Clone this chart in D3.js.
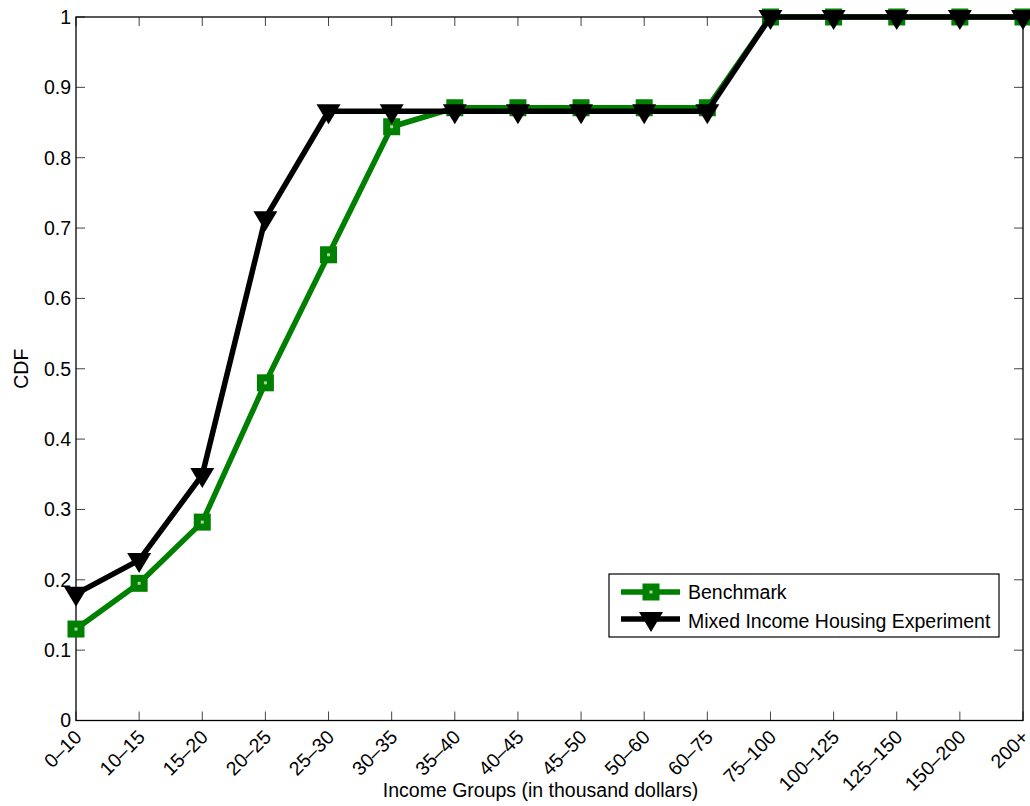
<!DOCTYPE html>
<html><head><meta charset="utf-8">
<script src="https://cdn.jsdelivr.net/npm/d3@7"></script>
<style>body{margin:0;background:#fff}svg{display:block}text{font-family:"Liberation Sans",Arial,sans-serif;fill:#000}</style>
</head><body><svg id="c" width="1030" height="806"></svg>
<script>
const categories = ["0–10","10–15","15–20","20–25","25–30","30–35","35–40","40–45","45–50","50–60","60–75","75–100","100–125","125–150","150–200","200+"];
const benchmark = [0.130,0.195,0.282,0.480,0.662,0.844,0.871,0.871,0.871,0.871,0.871,1,1,1,1,1];
const mixed = [0.180,0.228,0.349,0.714,0.866,0.866,0.866,0.866,0.866,0.866,0.866,1,1,1,1,1];
const yTicks = [0,0.1,0.2,0.3,0.4,0.5,0.6,0.7,0.8,0.9,1];
const seriesNames = ["Benchmark","Mixed Income Housing Experiment"];

const L=76,R=1023,T=17,B=720.5;
const FS=19.5;
const svg=d3.select("#c");
const x=d3.scalePoint().domain(categories).range([L,R]);
const y=d3.scaleLinear().domain([0,1]).range([B,T]);
const green="#008000";

// ticks
const g=svg.append("g");
g.selectAll(".xt").data(categories).enter().append("line")
 .attr("x1",d=>x(d)).attr("x2",d=>x(d)).attr("y1",B).attr("y2",B-9).attr("stroke","#444");
g.selectAll(".xt2").data(categories).enter().append("line")
 .attr("x1",d=>x(d)).attr("x2",d=>x(d)).attr("y1",T).attr("y2",T+9).attr("stroke","#444");
g.selectAll(".yt").data(yTicks).enter().append("line")
 .attr("x1",L).attr("x2",L+9).attr("y1",d=>y(d)).attr("y2",d=>y(d)).attr("stroke","#444");
g.selectAll(".yt2").data(yTicks).enter().append("line")
 .attr("x1",R).attr("x2",R-9).attr("y1",d=>y(d)).attr("y2",d=>y(d)).attr("stroke","#444");
svg.append("rect").attr("x",L).attr("y",T).attr("width",R-L).attr("height",B-T)
 .attr("fill","none").attr("stroke","#000").attr("stroke-width",1.3);

// tick labels
svg.selectAll(".yl").data(yTicks).enter().append("text")
 .attr("x",L-5).attr("y",d=>y(d)).attr("dy","0.35em").attr("text-anchor","end")
 .attr("font-size",FS).text(d=>d3.format("")(d));
svg.selectAll(".xl").data(categories).enter().append("text")
 .attr("transform",d=>`translate(${x(d)-3},${B+8}) rotate(-45)`)
 .attr("text-anchor","end").attr("dy","0.72em").attr("font-size",FS).text(d=>d);

svg.append("text").attr("x",(L+R)/2-9).attr("y",797).attr("text-anchor","middle")
 .attr("font-size",FS).text("Income Groups (in thousand dollars)");
svg.append("text").attr("transform",`translate(28,${(T+B)/2}) rotate(-90)`)
 .attr("text-anchor","middle").attr("font-size",FS).text("CDF");

const line=d3.line().x((d,i)=>x(categories[i])).y(d=>y(d));
function sq(sel,cx,cy){
 sel.append("rect").attr("x",cx-8.5).attr("y",cy-8.5).attr("width",17).attr("height",17).attr("fill",green);
 sel.append("rect").attr("x",cx-1.5).attr("y",cy-1.5).attr("width",3).attr("height",3).attr("fill","#a8d4a8");
}
function tr(sel,cx,cy){
 sel.append("path").attr("d","M-12,-7L12,-7L0,13Z").attr("transform",`translate(${cx},${cy})`).attr("fill","#000");
}
// green series
svg.append("path").datum(benchmark).attr("d",line).attr("fill","none").attr("stroke",green).attr("stroke-width",5.5).attr("stroke-linejoin","round");
const gm=svg.append("g");
benchmark.forEach((v,i)=>sq(gm,x(categories[i]),y(v)));
// black series
svg.append("path").datum(mixed).attr("d",line).attr("fill","none").attr("stroke","#000").attr("stroke-width",5.5).attr("stroke-linejoin","round");
const bm=svg.append("g");
mixed.forEach((v,i)=>tr(bm,x(categories[i]),y(v)));

// legend
const lg=svg.append("g");
lg.append("rect").attr("x",609).attr("y",574).attr("width",390).attr("height",63).attr("fill","#fff").attr("stroke","#000").attr("stroke-width",1.2);
lg.append("line").attr("x1",621).attr("x2",680).attr("y1",592).attr("y2",592).attr("stroke",green).attr("stroke-width",5.5);
sq(lg,651,592);
lg.append("line").attr("x1",621).attr("x2",680).attr("y1",619).attr("y2",619).attr("stroke","#000").attr("stroke-width",5.5);
tr(lg,651,619);
lg.selectAll(".lt").data(seriesNames).enter().append("text").attr("x",688).attr("y",(d,i)=>592+i*29).attr("dy","0.35em")
 .attr("font-size",FS).text(d=>d);
</script></body></html>
